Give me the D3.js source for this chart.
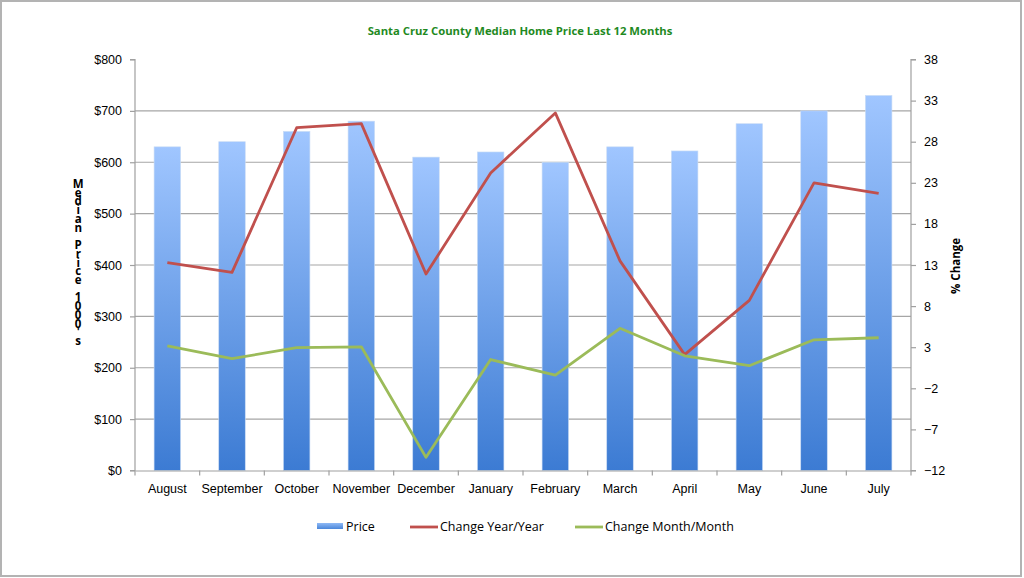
<!DOCTYPE html>
<html><head><meta charset="utf-8">
<script src="https://cdn.jsdelivr.net/npm/d3@7"></script>
<style>
html,body{margin:0;padding:0;background:#fff;}
svg{display:block;font-family:"Open Sans","Liberation Sans",sans-serif;}
</style></head>
<body>
<svg id="chart" width="1024" height="578"></svg>
<script>
const months = ["August","September","October","November","December","January","February","March","April","May","June","July"];
const price = [630,640,660,680,610,620,600,630,622,675,700,730];
const yoy = [13.3,12.1,29.7,30.2,11.9,24.2,31.5,13.5,2.1,8.7,23.0,21.7];
const mom = [3.15,1.6,2.95,3.05,-10.4,1.5,-0.4,5.3,1.95,0.75,3.9,4.15];
const leftTicks = [0,100,200,300,400,500,600,700,800];
const rightTicks = [-12,-7,-2,3,8,13,18,23,28,33,38];
const title = "Santa Cruz County Median Home Price Last 12 Months";
const leftTitle = "Median Price 1000's";
const rightTitle = "% Change";
const legendItems = ["Price","Change Year/Year","Change Month/Month"];

const svg = d3.select("#chart");
const L = 135, R = 911, T = 59.5, B = 470.5;

// outer border
svg.append("rect").attr("x",1).attr("y",1).attr("width",1020).attr("height",575)
  .attr("fill","#fff").attr("stroke","#b3b3b3").attr("stroke-width",2);

const defs = svg.append("defs");
const grad = defs.append("linearGradient").attr("id","barGrad").attr("x1",0).attr("y1",0).attr("x2",0).attr("y2",1);
grad.append("stop").attr("offset","0%").attr("stop-color","#a0c6ff");
grad.append("stop").attr("offset","100%").attr("stop-color","#3c7bd3");
const lgrad = defs.append("linearGradient").attr("id","legGrad").attr("x1",0).attr("y1",0).attr("x2",0).attr("y2",1);
lgrad.append("stop").attr("offset","0%").attr("stop-color","#8fb9f5");
lgrad.append("stop").attr("offset","100%").attr("stop-color","#4a86da");

const x = d3.scaleBand().domain(months).range([L,R]).paddingInner(0.59).paddingOuter(0.295);
const xb = d3.scaleBand().domain(months).range([L,R]);
const yL = d3.scaleLinear().domain([0,800]).range([B,T]);
const yR = d3.scaleLinear().domain([-12,38]).range([B,T]);

// gridlines
svg.append("g").selectAll("line").data(leftTicks.filter(d=>d>0 && d<800)).join("line")
  .attr("x1",L).attr("x2",R).attr("y1",d=>yL(d)).attr("y2",d=>yL(d))
  .attr("stroke","#a6a6a6").attr("stroke-width",1.2);

// bars
svg.append("g").selectAll("rect").data(months).join("rect")
  .attr("x",d=>x(d)).attr("width",x.bandwidth())
  .attr("y",(d,i)=>yL(price[i])).attr("height",(d,i)=>B-yL(price[i]))
  .attr("fill","url(#barGrad)").attr("stroke","#c9dcf5").attr("stroke-width",0.6);

// left axis
const gL = svg.append("g").attr("transform",`translate(${L},0)`)
  .call(d3.axisLeft(yL).tickValues(leftTicks).tickSize(5).tickPadding(8).tickFormat(d=>"$"+d));
gL.selectAll("path,line").attr("stroke","#a0a0a0").attr("stroke-width",1.2);
gL.select(".domain").attr("d",`M-5,${T}H0V${B}H-5`);
gL.selectAll("text").attr("font-size",12.5).attr("fill","#000");

// right axis
const gR = svg.append("g").attr("transform",`translate(${R},0)`)
  .call(d3.axisRight(yR).tickValues(rightTicks).tickSize(5).tickPadding(8));
gR.selectAll("path,line").attr("stroke","#a0a0a0").attr("stroke-width",1.2);
gR.select(".domain").attr("d",`M5,${T}H0V${B}H5`);
gR.selectAll("text").attr("font-size",12.5).attr("fill","#000");

// bottom axis
const gB = svg.append("g").attr("transform",`translate(0,${B})`)
  .call(d3.axisBottom(xb).tickSize(0).tickPadding(14));
gB.select(".domain").attr("stroke","#a0a0a0").attr("stroke-width",1.2);
gB.selectAll("text").attr("font-size",12.5).attr("fill","#000");
svg.append("g").selectAll("line").data(d3.range(months.length+1)).join("line")
  .attr("x1",i=>L + i*xb.step()).attr("x2",i=>L + i*xb.step())
  .attr("y1",B).attr("y2",B+5).attr("stroke","#a0a0a0").attr("stroke-width",1.2);

// lines
const cx = (d,i)=>xb(months[i])+xb.bandwidth()/2;
svg.append("path").datum(yoy).attr("fill","none").attr("stroke","#c0504d").attr("stroke-width",2.8)
  .attr("stroke-linejoin","round")
  .attr("d",d3.line().x(cx).y(d=>yR(d)));
svg.append("path").datum(mom).attr("fill","none").attr("stroke","#9bbb59").attr("stroke-width",2.8)
  .attr("stroke-linejoin","round")
  .attr("d",d3.line().x(cx).y(d=>yR(d)));

// title
svg.append("text").attr("x",520).attr("y",35).attr("text-anchor","middle")
  .attr("font-size",11.3).attr("font-weight","bold").attr("fill","#1f8a1f").text(title);

// left title stacked (upright vertical text)
svg.append("text").attr("x",78).attr("y",176)
  .style("writing-mode","vertical-rl").style("text-orientation","upright")
  .attr("textLength",172).attr("lengthAdjust","spacing")
  .attr("font-size",11.5).attr("font-weight","bold").attr("fill","#000").text(leftTitle);

// right title
svg.append("text").attr("transform","translate(960,266) rotate(-90)").attr("text-anchor","middle")
  .attr("font-size",11.5).attr("font-weight","bold").attr("fill","#000").text(rightTitle);

// legend
const lg = svg.append("g").attr("font-size",12.5).attr("fill","#000");
lg.append("rect").attr("x",317).attr("y",523).attr("width",26).attr("height",6).attr("fill","url(#legGrad)");
lg.append("text").attr("x",346).attr("y",531).text(legendItems[0]);
lg.append("line").attr("x1",410).attr("x2",438).attr("y1",527).attr("y2",527).attr("stroke","#c0504d").attr("stroke-width",2.8);
lg.append("text").attr("x",440).attr("y",531).text(legendItems[1]);
lg.append("line").attr("x1",575).attr("x2",603).attr("y1",527).attr("y2",527).attr("stroke","#9bbb59").attr("stroke-width",2.8);
lg.append("text").attr("x",605).attr("y",531).text(legendItems[2]);
</script>
</body></html>
